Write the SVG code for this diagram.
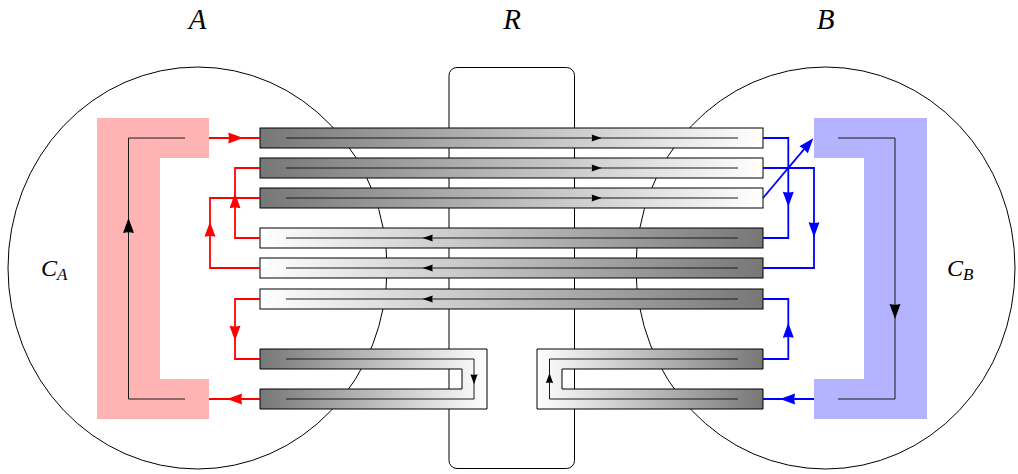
<svg xmlns="http://www.w3.org/2000/svg" xmlns:xlink="http://www.w3.org/1999/xlink" width="1018" height="474" viewBox="0 0 1018 474">
<style>
.outline{fill:none;stroke:#000;stroke-width:1}
.bar{stroke:#000;stroke-width:1}
.inner{fill:none;stroke:#1a1a1a;stroke-width:1}
.red{fill:none;stroke:#ff0000;stroke-width:1.8}
.blue{fill:none;stroke:#0000ff;stroke-width:1.8}
.ahr{fill:#ff0000}
.ahb{fill:#0000ff}
.ahk{fill:#000}
.lbl{font-family:"Liberation Serif","DejaVu Serif",serif;font-style:italic;fill:#000}
</style>
<defs>
<linearGradient id="gDW" x1="0" y1="0" x2="1" y2="0"><stop offset="0" stop-color="#777777"/><stop offset="1" stop-color="#ffffff"/></linearGradient>
<linearGradient id="gWD" x1="0" y1="0" x2="1" y2="0"><stop offset="0" stop-color="#ffffff"/><stop offset="1" stop-color="#777777"/></linearGradient>
<path id="ah" d="M0,0 L-15,-5.5 Q-13.5,0 -15,5.5 Z"/>
<path id="ahs" d="M0,0 L-10,-3.6 Q-9,0 -10,3.6 Z"/>
</defs>

<g id="regionA"><ellipse class="outline" cx="197.5" cy="268" rx="189.5" ry="201"/></g>
<g id="regionB"><ellipse class="outline" cx="825.5" cy="268" rx="189.5" ry="201"/></g>
<g id="regionR"><rect class="outline" x="449" y="67.5" width="125.5" height="401" rx="8" ry="8"/></g>

<g id="CA">
<path d="M97,118 H209 V158 H160 V379 H209 V419 H97 Z" fill="#ffb3b3"/>
<path class="inner" d="M185,138 H128.5 V399 H185"/>
<use xlink:href="#ah" class="ahk" transform="translate(128.5,218) rotate(-90)"/>
</g>
<g id="CB">
<path d="M814,118 H927 V419 H814 V379 H864 V158 H814 Z" fill="#b3b3ff"/>
<path class="inner" d="M838,138 H895 V399 H838"/>
<use xlink:href="#ah" class="ahk" transform="translate(895,319) rotate(90)"/>
</g>

<g id="bar1"><rect class="bar" x="260" y="128" width="503" height="20" fill="url(#gDW)"/><path class="inner" d="M286,138 H738"/><use xlink:href="#ahs" class="ahk" transform="translate(601.7,138)"/></g>
<g id="bar2"><rect class="bar" x="260" y="158" width="503" height="20" fill="url(#gDW)"/><path class="inner" d="M286,168 H738"/><use xlink:href="#ahs" class="ahk" transform="translate(601.7,168)"/></g>
<g id="bar3"><rect class="bar" x="260" y="188" width="503" height="20" fill="url(#gDW)"/><path class="inner" d="M286,198 H738"/><use xlink:href="#ahs" class="ahk" transform="translate(601.7,198)"/></g>
<g id="bar4"><rect class="bar" x="260" y="228" width="503" height="20" fill="url(#gWD)"/><path class="inner" d="M286,238 H738"/><use xlink:href="#ahs" class="ahk" transform="translate(422.7,238) rotate(180)"/></g>
<g id="bar5"><rect class="bar" x="260" y="258" width="503" height="20" fill="url(#gWD)"/><path class="inner" d="M286,268 H738"/><use xlink:href="#ahs" class="ahk" transform="translate(422.7,268) rotate(180)"/></g>
<g id="bar6"><rect class="bar" x="260" y="289" width="503" height="20" fill="url(#gWD)"/><path class="inner" d="M286,299 H738"/><use xlink:href="#ahs" class="ahk" transform="translate(422.7,299) rotate(180)"/></g>
<g id="uLeft"><path class="bar" d="M260,349 H487 V409 H260 V389 H462 V369 H260 Z" fill="url(#gDW)"/><path class="inner" d="M286,359 H474 V399 H286"/><use xlink:href="#ahs" class="ahk" transform="translate(474,384.3) rotate(90)"/></g>
<g id="uRight"><path class="bar" d="M763,349 H537 V409 H763 V389 H562 V369 H763 Z" fill="url(#gWD)"/><path class="inner" d="M738,359 H549.5 V399 H738"/><use xlink:href="#ahs" class="ahk" transform="translate(549.5,373) rotate(-90)"/></g>

<g id="connectors">
<path class="red" d="M209,138 H260"/><use xlink:href="#ah" class="ahr" transform="translate(243.3,138)"/>
<path class="red" d="M260,238 H235 V168 H260"/><use xlink:href="#ah" class="ahr" transform="translate(235,193.3) rotate(-90)"/>
<path class="red" d="M260,268 H210 V198 H260"/><use xlink:href="#ah" class="ahr" transform="translate(210,221.7) rotate(-90)"/>
<path class="red" d="M260,299 H235 V359 H260"/><use xlink:href="#ah" class="ahr" transform="translate(235,340.7) rotate(90)"/>
<path class="red" d="M260,399 H209"/><use xlink:href="#ah" class="ahr" transform="translate(227,399) rotate(180)"/>
<path class="blue" d="M763,138 H788.3 V238 H763"/><use xlink:href="#ah" class="ahb" transform="translate(788.3,206.7) rotate(90)"/>
<path class="blue" d="M763,168 H814 V268 H763"/><use xlink:href="#ah" class="ahb" transform="translate(814,237.3) rotate(90)"/>
<path class="blue" d="M763,198 L810,142.2"/><use xlink:href="#ah" class="ahb" transform="translate(813.3,138.3) rotate(-49.9)"/>
<path class="blue" d="M763,359 H788.3 V299 H763"/><use xlink:href="#ah" class="ahb" transform="translate(788.3,322.7) rotate(-90)"/>
<path class="blue" d="M814,399 H763"/><use xlink:href="#ah" class="ahb" transform="translate(780,399) rotate(180)"/>
</g>

<g id="labels">
<text class="lbl" x="197.5" y="28.5" font-size="29" text-anchor="middle">A</text>
<text class="lbl" x="512" y="28.5" font-size="29" text-anchor="middle">R</text>
<text class="lbl" x="825.5" y="28.5" font-size="29" text-anchor="middle">B</text>
<text class="lbl" x="41" y="275.5" font-size="24">C<tspan font-size="17" dy="4">A</tspan></text>
<text class="lbl" x="947" y="275.5" font-size="24">C<tspan font-size="17" dy="4">B</tspan></text>
</g>
</svg>
